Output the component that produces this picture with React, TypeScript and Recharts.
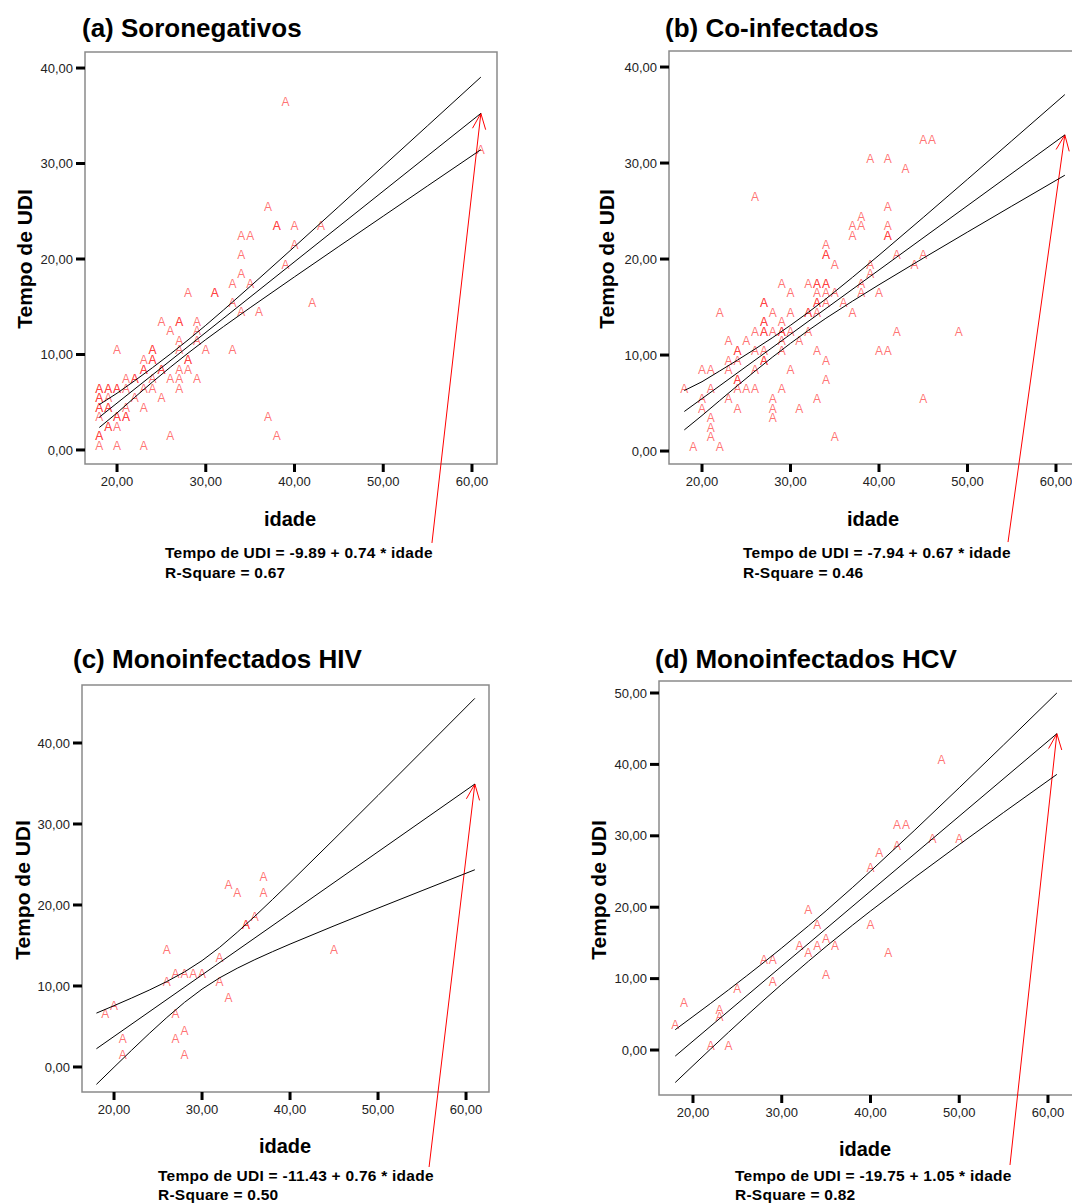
import React from 'react';
import { ScatterChart, Scatter, XAxis, YAxis, ReferenceLine, ReferenceArea } from 'recharts';

const FONT = '"Liberation Sans", Arial, Helvetica, sans-serif';

// [idade, tempo de UDI] (duplicates = overprinted markers)
const soronegativos = [
  [39, 36], [61, 31], [37, 25], [38, 23], [38, 23], [40, 23], [43, 23], [34, 22], [35, 22], [40, 21],
  [34, 20], [39, 19], [34, 18], [33, 17], [35, 17], [28, 16], [31, 16], [31, 16], [33, 15], [42, 15],
  [34, 14], [36, 14], [25, 13], [27, 13], [27, 13], [29, 13], [26, 12], [29, 12], [27, 11], [29, 11],
  [20, 10], [24, 10], [24, 10], [27, 10], [30, 10], [33, 10], [23, 9], [24, 9], [24, 9], [28, 9],
  [28, 9], [23, 8], [23, 8], [25, 8], [25, 8], [27, 8], [28, 8], [21, 7], [22, 7], [22, 7],
  [24, 7], [26, 7], [27, 7], [29, 7], [18, 6], [18, 6], [19, 6], [19, 6], [20, 6], [20, 6],
  [21, 6], [23, 6], [24, 6], [27, 6], [18, 5], [18, 5], [19, 5], [22, 5], [25, 5], [18, 4],
  [18, 4], [19, 4], [19, 4], [21, 4], [23, 4], [18, 3], [20, 3], [20, 3], [21, 3], [21, 3],
  [37, 3], [19, 2], [19, 2], [20, 2], [18, 1], [18, 1], [26, 1], [38, 1], [18, 0], [20, 0], [23, 0],
];

const coinfectados = [
  [45, 32], [46, 32], [39, 30], [41, 30], [43, 29], [26, 26], [41, 25], [38, 24], [37, 23], [38, 23],
  [41, 23], [37, 22], [41, 22], [41, 22], [34, 21], [34, 20], [34, 20], [42, 20], [45, 20], [35, 19],
  [39, 19], [44, 19], [39, 18], [29, 17], [32, 17], [33, 17], [33, 17], [34, 17], [34, 17], [38, 17],
  [30, 16], [33, 16], [34, 16], [35, 16], [38, 16], [40, 16], [27, 15], [27, 15], [33, 15], [33, 15],
  [34, 15], [36, 15], [22, 14], [28, 14], [30, 14], [32, 14], [32, 14], [33, 14], [37, 14], [27, 13],
  [27, 13], [29, 13], [26, 12], [27, 12], [27, 12], [28, 12], [29, 12], [29, 12], [30, 12], [32, 12],
  [42, 12], [49, 12], [23, 11], [25, 11], [29, 11], [31, 11], [24, 10], [24, 10], [26, 10], [27, 10],
  [29, 10], [33, 10], [40, 10], [41, 10], [23, 9], [24, 9], [27, 9], [27, 9], [34, 9], [20, 8],
  [21, 8], [23, 8], [26, 8], [30, 8], [24, 7], [24, 7], [34, 7], [18, 6], [21, 6], [24, 6],
  [25, 6], [26, 6], [29, 6], [20, 5], [23, 5], [28, 5], [33, 5], [45, 5], [20, 4], [24, 4],
  [28, 4], [31, 4], [21, 3], [28, 3], [21, 2], [21, 1], [35, 1], [19, 0], [22, 0],
];

const monoHIV = [
  [19, 6], [20, 7], [21, 3], [21, 1], [26, 14], [26, 10], [27, 11], [28, 11], [29, 11], [30, 11],
  [27, 6], [27, 3], [28, 4], [28, 1], [33, 22], [34, 21], [37, 23], [37, 21], [35, 17], [35, 17],
  [36, 18], [32, 13], [32, 10], [33, 8], [45, 14],
];

const monoHCV = [
  [18, 3], [19, 6], [23, 5], [23, 4], [22, 0], [24, 0], [25, 8], [28, 12], [29, 12], [29, 9],
  [33, 19], [34, 17], [32, 14], [33, 13], [34, 14], [35, 15], [36, 14], [35, 10], [40, 17], [42, 13],
  [40, 25], [41, 27], [43, 31], [44, 31], [43, 28], [47, 29], [50, 29], [48, 40],
];

// fitted line and the two confidence curves, read along x
const fitA = [[18, 3.43], [61, 35.25]];
const upperA = [[18, 4.75], [20, 5.94], [22, 7.26], [24, 8.62], [26, 10.04], [28, 11.52], [30, 13.06], [32, 14.66], [35, 17.12], [40, 21.29], [45, 25.5], [50, 29.73], [55, 33.96], [61, 39.05]];
const lowerA = [[18, 2.35], [20, 3.88], [22, 5.52], [24, 7.12], [26, 8.66], [28, 10.14], [30, 11.56], [32, 12.92], [35, 14.9], [40, 18.13], [45, 21.32], [50, 24.49], [55, 27.66], [61, 31.45]];

const fitB = [[18, 4.12], [61, 32.93]];
const upperB = [[18, 6.3], [20, 7.22], [22, 8.34], [24, 9.47], [26, 10.63], [28, 11.83], [30, 13.1], [32, 14.44], [34, 15.85], [37, 18.09], [40, 20.4], [45, 24.33], [50, 28.31], [55, 32.31], [61, 37.13]];
const lowerB = [[18, 2.2], [20, 3.7], [22, 5.26], [24, 6.81], [26, 8.33], [28, 9.81], [30, 11.22], [32, 12.56], [34, 13.83], [37, 15.61], [40, 17.32], [45, 20.09], [50, 22.81], [55, 25.51], [61, 28.73]];

const fitC = [[18, 2.25], [61, 34.93]];
const upperC = [[18, 6.65], [20, 7.57], [22, 8.51], [24, 9.49], [26, 10.55], [28, 11.73], [30, 13.13], [32, 14.77], [34, 16.63], [36, 18.61], [38, 20.67], [40, 22.77], [45, 28.12], [50, 33.53], [55, 38.97], [61, 45.51]];
const lowerC = [[18, -2.15], [20, -0.03], [22, 2.07], [24, 4.13], [26, 6.11], [28, 7.97], [30, 9.61], [32, 11.01], [34, 12.19], [36, 13.25], [38, 14.23], [40, 15.17], [45, 17.42], [50, 19.61], [55, 21.77], [61, 24.35]];

const fitD = [[18, -0.85], [61, 44.3]];
const upperD = [[18, 2.85], [20, 4.69], [22, 6.54], [24, 8.42], [26, 10.34], [28, 12.29], [30, 14.29], [33, 17.38], [35, 19.5], [38, 22.79], [40, 25.04], [45, 30.81], [50, 36.73], [55, 42.73], [61, 50.0]];
const lowerD = [[18, -4.55], [20, -2.19], [22, 0.16], [24, 2.48], [26, 4.76], [28, 7.01], [30, 9.21], [33, 12.42], [35, 14.5], [38, 17.51], [40, 19.46], [45, 24.19], [50, 28.77], [55, 33.27], [61, 38.6]];

// red annotation arrow: tail (under the equation) -> tip (end of fit line)
const arrowA = [[55.49, -9.74], [61, 35.25]];
const arrowB = [[54.58, -9.48], [61, 32.93]];
const arrowC = [[55.8, -12.35], [61, 34.93]];
const arrowD = [[55.72, -16.1], [61, 44.3]];

const xTicks = [20, 30, 40, 50, 60];
const yTicks40 = [0, 10, 20, 30, 40];
const yTicks50 = [0, 10, 20, 30, 40, 50];

const titles = ['(a) Soronegativos', '(b) Co-infectados', '(c) Monoinfectados HIV', '(d) Monoinfectados HCV'];
const equations = [
  'Tempo de UDI = -9.89 + 0.74 * idade',
  'Tempo de UDI = -7.94 + 0.67 * idade',
  'Tempo de UDI = -11.43 + 0.76 * idade',
  'Tempo de UDI = -19.75 + 1.05 * idade',
];
const rSquares = ['R-Square = 0.67', 'R-Square = 0.46', 'R-Square = 0.50', 'R-Square = 0.82'];

const toPts = (rows: number[][]) => rows.map(([x, y]) => ({ x, y }));
const fmt = (v: number) => v.toFixed(2).replace('.', ',');

const panels = [
  {
    box: { left: 0, top: 40, width: 540, height: 560 }, margin: { top: 12, right: 43, bottom: 106, left: 25 },
    xDomain: [16.39, 62.82], yDomain: [-1.47, 41.68], yTicks: yTicks40,
    points: soronegativos, fit: fitA, upper: upperA, lower: lowerA, arrow: arrowA,
    title: [82, 37], ylab: [24, 259], xlab: [290, 526], eq: [165, 558, 578],
  },
  {
    box: { left: 560, top: 40, width: 540, height: 560 }, margin: { top: 11, right: 18, bottom: 106, left: 49 },
    xDomain: [16.27, 62.94], yDomain: [-1.35, 41.67], yTicks: yTicks40,
    points: coinfectados, fit: fitB, upper: upperB, lower: lowerB, arrow: arrowB,
    title: [665, 37], ylab: [606, 259], xlab: [873, 526], eq: [743, 558, 578],
  },
  {
    box: { left: 0, top: 670, width: 540, height: 534 }, margin: { top: 15, right: 51, bottom: 82, left: 22 },
    xDomain: [16.36, 62.61], yDomain: [-3.09, 47.16], yTicks: yTicks40,
    points: monoHIV, fit: fitC, upper: upperC, lower: lowerC, arrow: arrowC,
    title: [73, 668], ylab: [22, 890], xlab: [285, 1153], eq: [158, 1181, 1200],
  },
  {
    box: { left: 560, top: 670, width: 540, height: 534 }, margin: { top: 11, right: 27, bottom: 79, left: 39 },
    xDomain: [16.17, 62.82], yDomain: [-6.3, 51.68], yTicks: yTicks50,
    points: monoHCV, fit: fitD, upper: upperD, lower: lowerD, arrow: arrowD,
    title: [655, 668], ylab: [598, 890], xlab: [865, 1156], eq: [735, 1181, 1200],
  },
];

const MarkerA = (p: any) => (
  <text x={p.cx} y={p.cy} textAnchor="middle" fontSize={12} fontFamily={FONT} fill="#ff2a2a" fillOpacity={0.66}>
    A
  </text>
);

const NoDot = () => <g />;

const ArrowShape = (p: any) => {
  const { x1, y1, x2, y2 } = p;
  const ang = Math.atan2(y1 - y2, x1 - x2);
  const len = 17;
  const spread = 0.4;
  const ax = x2 + len * Math.cos(ang + spread);
  const ay = y2 + len * Math.sin(ang + spread);
  const bx = x2 + len * Math.cos(ang - spread);
  const by = y2 + len * Math.sin(ang - spread);
  return (
    <g>
      <line x1={x1} y1={y1} x2={x2} y2={y2} stroke="#ff0000" strokeWidth={1} />
      <polyline points={`${ax},${ay} ${x2},${y2} ${bx},${by}`} fill="none" stroke="#ff0000" strokeWidth={1} />
    </g>
  );
};

const Panel = ({ cfg }: { cfg: (typeof panels)[number] }) => {
  const tick = { fill: '#222', fontSize: 13, fontFamily: FONT };
  return (
    <div style={{ position: 'absolute', left: cfg.box.left, top: cfg.box.top }}>
      <ScatterChart width={cfg.box.width} height={cfg.box.height} margin={cfg.margin}>
        <XAxis
          type="number"
          dataKey="x"
          domain={cfg.xDomain}
          allowDataOverflow
          ticks={xTicks}
          tickFormatter={fmt}
          tick={tick}
          tickSize={8}
          tickMargin={5}
          tickLine={{ stroke: '#000', strokeWidth: 3 }}
          axisLine={false}
          height={30}
        />
        <YAxis
          type="number"
          dataKey="y"
          domain={cfg.yDomain}
          allowDataOverflow
          ticks={cfg.yTicks}
          tickFormatter={fmt}
          tick={tick}
          tickSize={9}
          tickMargin={3}
          tickLine={{ stroke: '#000', strokeWidth: 3 }}
          axisLine={false}
          width={60}
        />
        <ReferenceArea
          x1={cfg.xDomain[0]}
          x2={cfg.xDomain[1]}
          y1={cfg.yDomain[0]}
          y2={cfg.yDomain[1]}
          fill="none"
          fillOpacity={0}
          stroke="#8a8a8a"
          strokeWidth={1.5}
          ifOverflow="visible"
        />
        <Scatter data={toPts(cfg.points)} shape={MarkerA} isAnimationActive={false} />
        <Scatter data={toPts(cfg.upper)} line={{ stroke: '#000', strokeWidth: 1 }} shape={NoDot} isAnimationActive={false} />
        <Scatter data={toPts(cfg.fit)} line={{ stroke: '#000', strokeWidth: 1 }} shape={NoDot} isAnimationActive={false} />
        <Scatter data={toPts(cfg.lower)} line={{ stroke: '#000', strokeWidth: 1 }} shape={NoDot} isAnimationActive={false} />
        <ReferenceLine
          segment={[
            { x: cfg.arrow[0][0], y: cfg.arrow[0][1] },
            { x: cfg.arrow[1][0], y: cfg.arrow[1][1] },
          ]}
          ifOverflow="visible"
          shape={ArrowShape}
        />
      </ScatterChart>
    </div>
  );
};

export default function App() {
  return (
    <div style={{ position: 'absolute', left: 0, top: 0, width: 1072, height: 1204, overflow: 'hidden', background: '#fff' }}>
      {panels.map((p, i) => (
        <Panel key={i} cfg={p} />
      ))}
      <svg width={1072} height={1204} style={{ position: 'absolute', left: 0, top: 0, pointerEvents: 'none' }} fontFamily={FONT}>
        {panels.map((p, i) => (
          <g key={i} fill="#000" fontWeight="bold">
            <text x={p.title[0]} y={p.title[1]} fontSize={26}>{titles[i]}</text>
            <text
              transform={`translate(${p.ylab[0]},${p.ylab[1]}) rotate(-90)`}
              textAnchor="middle"
              dominantBaseline="central"
              fontSize={21}
            >
              Tempo de UDI
            </text>
            <text x={p.xlab[0]} y={p.xlab[1]} textAnchor="middle" fontSize={20}>idade</text>
            <text x={p.eq[0]} y={p.eq[1]} fontSize={15.5} letterSpacing={0.25}>{equations[i]}</text>
            <text x={p.eq[0]} y={p.eq[2]} fontSize={15.5} letterSpacing={0.25}>{rSquares[i]}</text>
          </g>
        ))}
      </svg>
    </div>
  );
}
